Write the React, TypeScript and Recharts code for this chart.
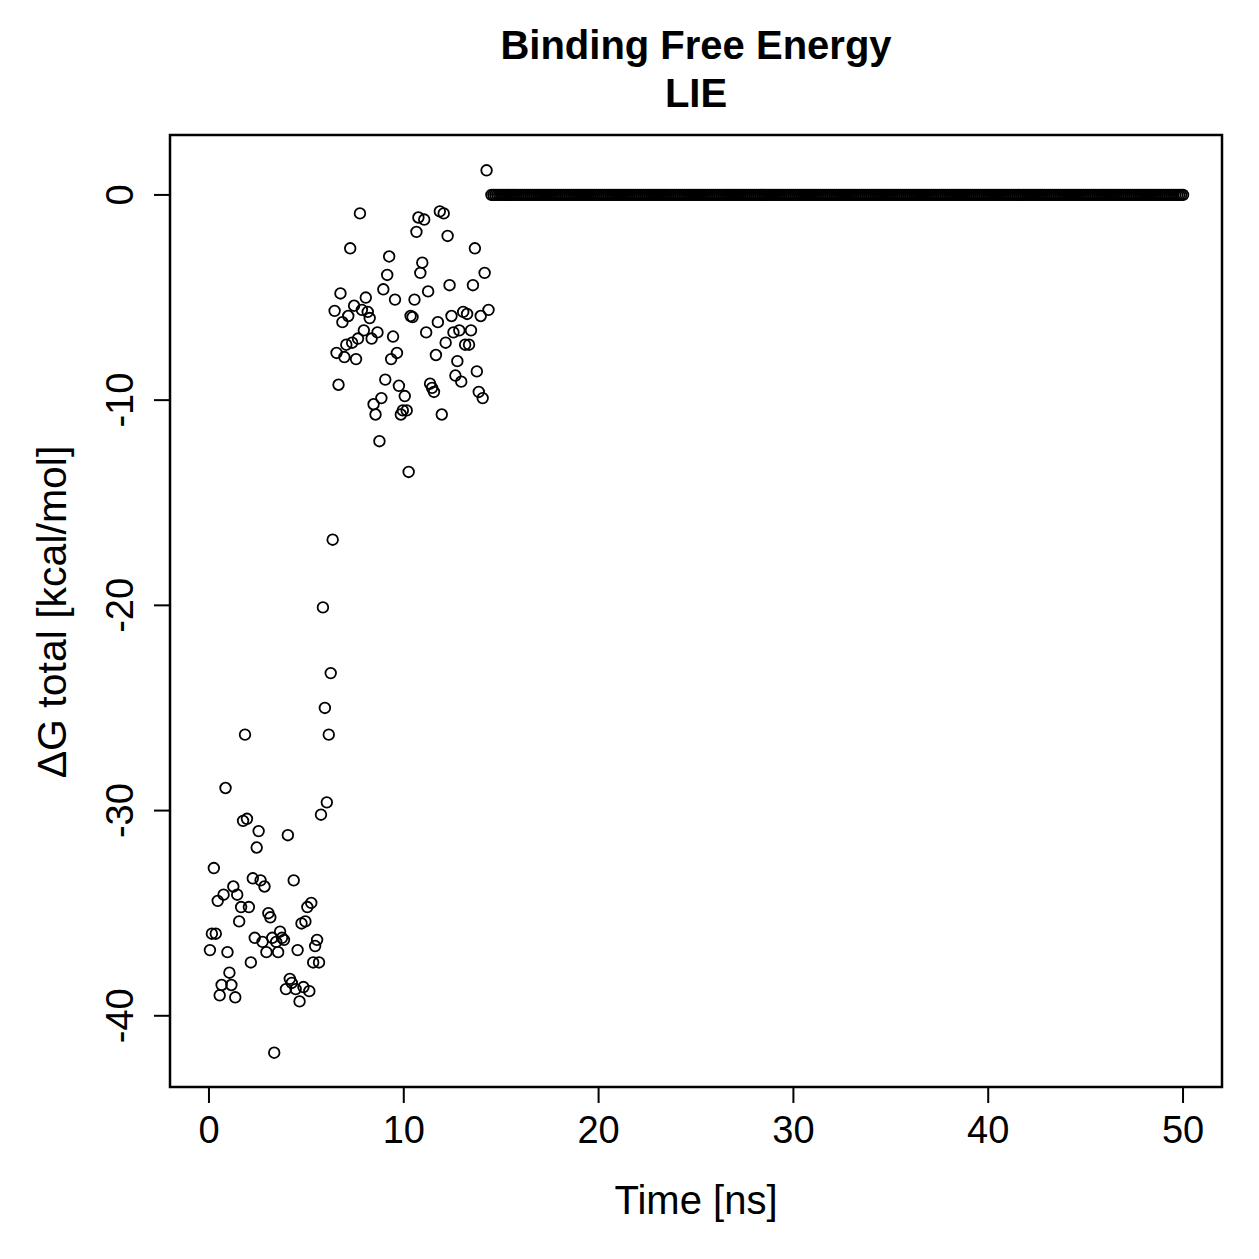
import React from 'react'
import { ScatterChart, Scatter, XAxis, YAxis, ReferenceArea } from 'recharts'

const FONT = '"Liberation Sans", Arial, Helvetica, sans-serif'

// trajectory is written every 0.1 ns
const SAMPLE_NS = 0.1

// ΔG per frame while the ligand sits in the pocket (frames 1-57)
const boundDeltaG = [
  -36.8, -36.0, -32.8, -36.0, -34.4, -39.0, -38.5, -34.1, -28.9, -36.9,
  -37.9, -38.5, -33.7, -39.1, -34.1, -35.4, -34.7, -30.5, -26.3, -30.4,
  -34.7, -37.4, -33.3, -36.2, -31.8, -31.0, -33.4, -36.4, -33.7, -36.9,
  -35.0, -35.2, -36.2, -41.8, -36.4, -36.9, -35.9, -36.2, -36.3, -38.7,
  -31.2, -38.2, -38.4, -33.4, -38.7, -36.8, -39.3, -35.5, -38.6, -35.4,
  -34.7, -38.8, -34.5, -37.4, -36.6, -36.3, -37.4
]

// unbinding event (frames 58-64)
const releaseDeltaG = [-30.2, -20.1, -25.0, -29.6, -26.3, -23.3, -16.8]

// loosely attached (frames 65-144)
const looseDeltaG = [
  -5.65, -7.7, -9.25, -4.8, -6.2, -7.9, -7.3, -5.9, -2.6, -7.2,
  -5.4, -8.0, -7.0, -0.9, -5.6, -6.6, -5.0, -5.7, -6.0, -7.0,
  -10.2, -10.7, -6.7, -12.0, -9.9, -4.6, -9.0, -3.9, -3.0, -8.0,
  -6.9, -5.1, -7.7, -9.3, -10.7, -10.5, -9.8, -10.5, -13.5, -5.9,
  -5.95, -5.1, -1.8, -1.1, -3.8, -3.3, -1.2, -6.7, -4.7, -9.2,
  -9.4, -9.6, -7.8, -6.2, -0.8, -10.7, -0.9, -7.2, -2.0, -4.4,
  -5.9, -6.7, -8.8, -8.1, -6.6, -9.1, -5.7, -7.3, -5.8, -7.3,
  -6.6, -4.4, -2.6, -8.6, -9.6, -5.9, -9.9, -3.8, 1.2, -5.6
]

// after dissociation every frame up to 50 ns gives zero interaction energy
const DISSOCIATED_DG = 0
const LAST_FRAME = 500

const xTicks = [0, 10, 20, 30, 40, 50]
const yTicks = [-40, -30, -20, -10, 0]

// R-style padded ranges
const X_DOMAIN: [number, number] = [-2, 52]
const Y_DOMAIN: [number, number] = [-43.47, 2.92]

const sampled = [...boundDeltaG, ...releaseDeltaG, ...looseDeltaG]
const data: { t: number; dg: number }[] = sampled.map((dg, i) => ({
  t: Math.round(i * SAMPLE_NS * 10) / 10 + 0.05,
  dg
}))
for (let f = sampled.length + 1; f <= LAST_FRAME; f++) {
  data.push({ t: Math.round(f * SAMPLE_NS * 10) / 10, dg: DISSOCIATED_DG })
}

const OpenCircle = (props: any) => {
  const { cx, cy } = props
  if (cx == null || cy == null) return null
  return <circle cx={cx} cy={cy} r={5.3} fill="none" stroke="#000" strokeWidth={1.8} />
}

const RotatedTick = (props: any) => {
  const { x, y, payload } = props
  return (
    <text
      x={x}
      y={y}
      transform={`rotate(-90, ${x}, ${y})`}
      textAnchor="middle"
      fontSize={38}
      fontFamily={FONT}
      fill="#000"
    >
      {String(payload.value)}
    </text>
  )
}

const App: React.FC = () => {
  return (
    <div style={{ position: 'absolute', left: 0, top: 0, width: 1259, height: 1259, background: '#fff' }}>
      <ScatterChart
        width={1259}
        height={1259}
        margin={{ top: 135, right: 37, bottom: 72, left: 70 }}
      >
        <XAxis
          type="number"
          dataKey="t"
          domain={X_DOMAIN}
          ticks={xTicks}
          interval={0}
          allowDataOverflow
          height={100}
          axisLine={false}
          tickLine={{ stroke: '#000', strokeWidth: 2 }}
          tickSize={16}
          tickMargin={13}
          tick={{ fill: '#000', fontSize: 38, fontFamily: FONT }}
        />
        <YAxis
          type="number"
          dataKey="dg"
          domain={Y_DOMAIN}
          ticks={yTicks}
          interval={0}
          allowDataOverflow
          width={100}
          axisLine={false}
          tickLine={{ stroke: '#000', strokeWidth: 2 }}
          tickSize={16}
          tickMargin={21}
          tick={<RotatedTick />}
        />
        <ReferenceArea
          x1={X_DOMAIN[0]}
          x2={X_DOMAIN[1]}
          y1={Y_DOMAIN[0]}
          y2={Y_DOMAIN[1]}
          fill="none"
          fillOpacity={0}
          stroke="#000"
          strokeWidth={2.5}
          ifOverflow="visible"
        />
        <Scatter data={data} shape={<OpenCircle />} isAnimationActive={false} />
      </ScatterChart>
      <svg
        width={1259}
        height={1259}
        style={{ position: 'absolute', left: 0, top: 0, pointerEvents: 'none' }}
      >
        <g fontFamily={FONT} fill="#000" fontSize={40}>
          <text x={696} y={59} textAnchor="middle" fontWeight="bold" fontSize={40}>
            Binding Free Energy
          </text>
          <text x={696} y={107} textAnchor="middle" fontWeight="bold" fontSize={40}>
            LIE
          </text>
          <text x={696} y={1214} textAnchor="middle">
            Time [ns]
          </text>
          <text x={66} y={612} textAnchor="middle" transform="rotate(-90, 66, 612)" fontSize={41}>
            ΔG total [kcal/mol]
          </text>
        </g>
      </svg>
    </div>
  )
}

export default App
